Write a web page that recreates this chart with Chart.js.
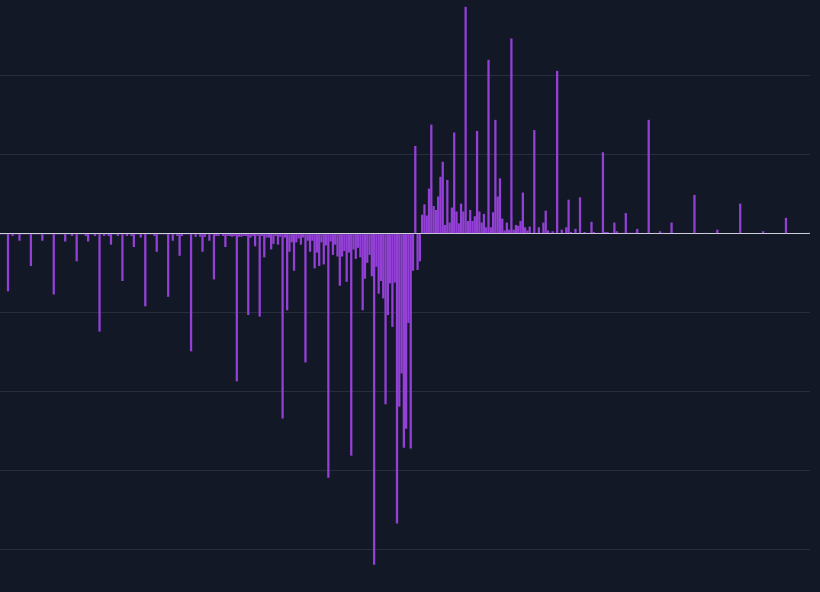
<!DOCTYPE html>
<html>
<head>
<meta charset="utf-8">
<script src="https://cdn.jsdelivr.net/npm/chart.js@4.4.1/dist/chart.umd.min.js"></script>
<style>
  html, body { margin: 0; padding: 0; background: #121825; }
  canvas { display: block; }
</style>
</head>
<body>
<canvas id="depth-chart" width="820" height="592"></canvas>
<script>
// left half of the book (levels 0-183), one row = 10 levels
let bidSide = [
  -1, -1, -1, -73, -1, -3, -1, -1, -9, -1,
  -1, -1, -1, -41, -1, -1, -1, -1, -9, -1,
  -1, -1, -1, -77, -1, -1, -1, -1, -10, -1,
  -1, -3, -1, -35, -1, -1, -1, -3, -10, -1,
  -1, -3, -1, -124, -1, -3, -1, -3, -14, -1,
  -1, -3, -1, -60, -1, -3, -1, -3, -17, -1,
  -1, -5, -1, -92, -1, -1, -1, -3, -23, -1,
  -1, -1, -1, -80, -1, -9, -1, -3, -28, -3,
  -1, -1, -1, -149, -1, -4, -1, -4, -23, -4,
  -1, -9, -1, -58, -3, -3, -1, -3, -17, -3,
  -3, -4, -3, -187, -4, -4, -3, -3, -103, -5,
  -3, -16, -3, -105, -3, -30, -5, -5, -20, -13,
  -3, -14, -4, -234, -5, -97, -23, -11, -47, -11,
  -6, -14, -5, -163, -9, -23, -9, -44, -24, -41,
  -11, -39, -15, -309, -10, -27, -14, -29, -66, -29,
  -22, -61, -24, -281, -20, -32, -18, -30, -97, -57,
  -37, -27, -54, -419, -42, -76, -60, -82, -216, -103,
  -63, -118, -62, -367, -219, -177, -271, -247, -113, -272,
  -47, 111, -46, -35
];

// right half (levels 184-353)
let askSide = [
  24, 37, 23, 57, 138, 35, 30, 47, 72, 91,
  11, 68, 14, 33, 128, 28, 13, 38, 28, 287,
  16, 30, 16, 22, 130, 28, 14, 25, 8, 220,
  8, 27, 144, 47, 70, 19, 4, 14, 5, 247,
  5, 11, 10, 16, 52, 8, 4, 9, 1, 131,
  1, 8, 1, 14, 29, 4, 1, 3, 1, 206,
  0, 5, 1, 8, 43, 2, 0, 6, 0, 46,
  0, 2, 0, 1, 15, 2, 0, 1, 0, 103,
  2, 2, 0, 1, 14, 3, 1, 0, 1, 26,
  1, 1, 1, 1, 6, 0, 0, 0, 0, 144,
  0, 0, 1, 0, 3, 1, 1, 0, 0, 14,
  0, 0, 0, 0, 1, 0, 0, 0, 0, 49,
  0, 0, 0, 0, 1, 0, 0, 0, 0, 5,
  0, 0, 0, 0, 0, 0, 0, 0, 0, 38,
  0, 0, 0, 0, 0, 0, 0, 0, 0, 3,
  0, 0, 0, 0, 0, 0, 0, 0, 0, 20,
  0, 0, 0, 0, 0, 0, 0, 0, 0, 1
];

let yMin = -453.6;
let yMax = 295.7;

let values = bidSide.concat(askSide);
let labels = values.map((v, i) => String(i));

new Chart(document.getElementById("depth-chart"), {
  type: "bar",
  data: {
    labels: labels,
    datasets: [
      {
        data: values,
        backgroundColor: "#9240d5",
        borderWidth: 0,
        inflateAmount: 0,
        barPercentage: 1,
        categoryPercentage: 1,
      },
    ],
  },
  options: {
    responsive: false,
    animation: false,
    layout: { padding: { left: 0, right: 10, top: 0, bottom: 0 } },
    plugins: {
      legend: { display: false },
      tooltip: { enabled: false },
    },
    scales: {
      x: { display: false },
      y: {
        min: yMin,
        max: yMax,
        ticks: { display: false, stepSize: 100 },
        border: { display: false },
        grid: {
          drawTicks: false,
          color: (ctx) => {
            let v = ctx.tick.value;
            if (v === 0) return "#cdd1d8";
            if (Math.abs(v % 100) < 0.001) return "#272e3b";
            return "rgba(0,0,0,0)";
          },
          lineWidth: 1,
        },
      },
    },
  },
});
</script>
</body>
</html>
